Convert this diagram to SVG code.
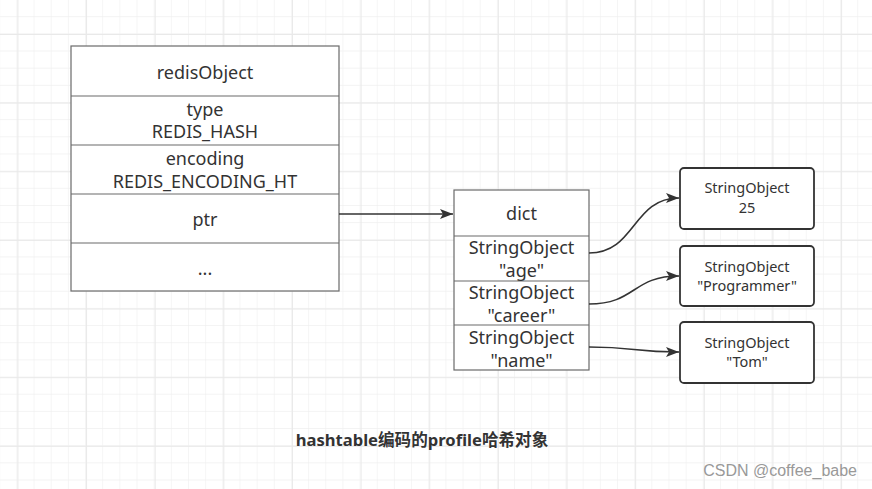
<svg xmlns="http://www.w3.org/2000/svg" width="872" height="489" viewBox="0 0 872 489">
<style>
.t{font-family:"Noto Sans","Noto Sans CJK SC",sans-serif;fill:#333;text-anchor:middle}
.b18{font-size:18px}
.s15{font-size:14.5px}
.box{fill:#fff;stroke:#6a6a6a;stroke-width:1.2}
.sep{stroke:#6a6a6a;stroke-width:1.2}
.rbox{fill:#fff;stroke:#333;stroke-width:1.8}
.conn{fill:none;stroke:#333;stroke-width:1.6}
</style>
<defs>
<pattern id="minor" width="17.16" height="17.16" patternUnits="userSpaceOnUse" x="0.2" y="0">
<path d="M17.16 0V17.16M0 17.16H17.16" fill="none" stroke="#efefef" stroke-width="1.2"/>
</pattern>
<pattern id="major" width="68.64" height="68.64" patternUnits="userSpaceOnUse" x="17.4" y="34">
<path d="M0 0V68.64M0 0H68.64" fill="none" stroke="#e9e9e9" stroke-width="2"/>
</pattern>
<marker id="arr" markerUnits="userSpaceOnUse" markerWidth="14" markerHeight="12" refX="13" refY="5" orient="auto">
<path d="M0 0L13 5L0 10L3 5z" fill="#333"/>
</marker>
</defs>
<rect width="872" height="489" fill="#fff"/>
<rect width="872" height="489" fill="url(#minor)"/>
<rect width="872" height="489" fill="url(#major)"/>

<g id="redisObject">
<rect class="box" x="71" y="46" width="268" height="245"/>
<line class="sep" x1="71" y1="96" x2="339" y2="96"/>
<line class="sep" x1="71" y1="145" x2="339" y2="145"/>
<line class="sep" x1="71" y1="194" x2="339" y2="194"/>
<line class="sep" x1="71" y1="243" x2="339" y2="243"/>
<text class="t b18" x="205" y="79">redisObject</text>
<text class="t b18" x="205" y="116">type</text>
<text class="t b18" x="205" y="138">REDIS_HASH</text>
<text class="t b18" x="205" y="165">encoding</text>
<text class="t b18" x="205" y="188">REDIS_ENCODING_HT</text>
<text class="t b18" x="205" y="226">ptr</text>
<text class="t b18" x="205" y="275">...</text>
</g>

<g id="dict">
<rect class="box" x="454" y="190" width="135" height="180"/>
<line class="sep" x1="454" y1="236" x2="589" y2="236"/>
<line class="sep" x1="454" y1="281" x2="589" y2="281"/>
<line class="sep" x1="454" y1="325" x2="589" y2="325"/>
<text class="t b18" x="521.5" y="220">dict</text>
<text class="t b18" x="521.5" y="254">StringObject</text>
<text class="t b18" x="521.5" y="277">"age"</text>
<text class="t b18" x="521.5" y="299">StringObject</text>
<text class="t b18" x="521.5" y="322">"career"</text>
<text class="t b18" x="521.5" y="344">StringObject</text>
<text class="t b18" x="521.5" y="367">"name"</text>
</g>

<g id="str25">
<rect class="rbox" x="680" y="168" width="134" height="61" rx="4"/>
<text class="t s15" x="747" y="193">StringObject</text>
<text class="t s15" x="747" y="213">25</text>
</g>
<g id="strProgrammer">
<rect class="rbox" x="680" y="246" width="134" height="60" rx="4"/>
<text class="t s15" x="747" y="272">StringObject</text>
<text class="t s15" x="747" y="291">"Programmer"</text>
</g>
<g id="strTom">
<rect class="rbox" x="680" y="322" width="134" height="61" rx="4"/>
<text class="t s15" x="747" y="348">StringObject</text>
<text class="t s15" x="747" y="367">"Tom"</text>
</g>

<g id="connectors">
<path class="conn" d="M339 214H453" marker-end="url(#arr)"/>
<path class="conn" d="M589 253C636 253 632 198 679 198" marker-end="url(#arr)"/>
<path class="conn" d="M589 304C636 304 632 276 679 276" marker-end="url(#arr)"/>
<path class="conn" d="M589 347C636 347 632 352 679 352" marker-end="url(#arr)"/>
</g>

<text x="422" y="446" font-family="'Noto Sans','Noto Sans CJK SC',sans-serif" font-size="16.6" font-weight="bold" fill="#333" text-anchor="middle">hashtable编码的profile哈希对象</text>
<text x="857" y="476" font-family="'Liberation Sans',Arial,sans-serif" font-size="16" fill="#999" text-anchor="end">CSDN @coffee_babe</text>
</svg>
